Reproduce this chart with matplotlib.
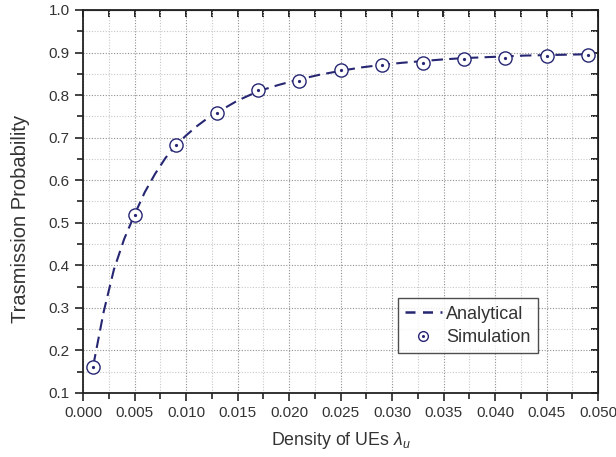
import numpy as np
import matplotlib.pyplot as plt
from matplotlib.ticker import MultipleLocator
from matplotlib.lines import Line2D
from matplotlib.legend_handler import HandlerTuple

plt.rcParams['font.family'] = ['Liberation Sans', 'DejaVu Sans']
plt.rcParams['mathtext.fontset'] = 'custom'
plt.rcParams['mathtext.it'] = 'Liberation Sans:italic'
plt.rcParams['mathtext.rm'] = 'Liberation Sans'

# simulation points
sim_x = [0.001, 0.005, 0.009, 0.013, 0.017, 0.021, 0.025, 0.029, 0.033,
         0.037, 0.041, 0.045, 0.049]
sim_y = [0.161, 0.519, 0.682, 0.759, 0.811, 0.833, 0.859, 0.870, 0.876,
         0.885, 0.888, 0.893, 0.895]

# analytical curve
ana_x = [0.001, 0.002, 0.003, 0.004, 0.005, 0.006, 0.007, 0.008, 0.009,
         0.010, 0.011, 0.012, 0.013, 0.015, 0.017, 0.019, 0.021, 0.023,
         0.025, 0.027, 0.029, 0.031, 0.033, 0.035, 0.037, 0.039, 0.041,
         0.043, 0.045, 0.047, 0.049]
ana_y = [0.165, 0.290, 0.390, 0.462, 0.519, 0.572, 0.615, 0.652, 0.682,
         0.705, 0.726, 0.744, 0.759, 0.787, 0.809, 0.824, 0.837, 0.848,
         0.857, 0.865, 0.871, 0.876, 0.880, 0.884, 0.887, 0.889, 0.891,
         0.893, 0.894, 0.895, 0.896]

navy = '#262673'
txt = '#333333'

fig = plt.figure(figsize=(6.16, 4.57), dpi=100)
ax = fig.add_axes([83 / 616, 1 - 393 / 457, 515 / 616, 383 / 457])

ax.plot(ana_x, ana_y, linestyle=(0, (5.5, 3)), color=navy, lw=1.5, zorder=3)
ax.plot(sim_x, sim_y, linestyle='none', marker='o', ms=9.5, mfc='white',
        mec=navy, mew=1.0, zorder=4)
ax.plot(sim_x, sim_y, linestyle='none', marker='o', ms=1.3, mfc=navy,
        mec=navy, zorder=5)

ax.set_xlim(0.0, 0.050)
ax.set_ylim(0.1, 1.0)
ax.xaxis.set_major_locator(MultipleLocator(0.005))
ax.xaxis.set_minor_locator(MultipleLocator(0.0025))
ax.yaxis.set_major_locator(MultipleLocator(0.1))
ax.yaxis.set_minor_locator(MultipleLocator(0.05))
ax.set_xticklabels([f'{v:.3f}' for v in ax.get_xticks()])
ax.set_yticklabels([f'{v:.1f}' for v in ax.get_yticks()])

ax.grid(which='major', linestyle=(0, (1, 1.5)), color='#909090', lw=0.8)
ax.grid(which='minor', linestyle=(0, (1, 1.5)), color='#c8c8c8', lw=0.8)
ax.set_axisbelow(True)

ax.tick_params(which='both', direction='out', labelsize=11,
               labelcolor=txt, color='#222222', width=1.2)
ax.tick_params(which='major', length=6)
ax.tick_params(which='minor', length=4)
for s in ax.spines.values():
    s.set_linewidth(1.3)
    s.set_color('#222222')

# inward ticks on top / right
secx = ax.secondary_xaxis('top')
secx.xaxis.set_major_locator(MultipleLocator(0.0025))
secx.tick_params(direction='in', length=5, width=1.2, labeltop=False)
secy = ax.secondary_yaxis('right')
secy.yaxis.set_major_locator(MultipleLocator(0.05))
secy.tick_params(direction='in', length=5, width=1.2, labelright=False)

ax.set_xlabel(r'Density of UEs $\lambda_u$', fontsize=12.8, color=txt,
              labelpad=7)
ax.set_ylabel('Trasmission Probability', fontsize=14.5, color=txt)
ax.yaxis.set_label_coords(-0.103, 0.454)

h_ana = Line2D([], [], linestyle=(0, (4, 3)), color=navy, lw=1.8)
h_circ = Line2D([], [], linestyle='none', marker='o', ms=7, mfc='white',
                mec=navy, mew=1.0)
h_dot = Line2D([], [], linestyle='none', marker='o', ms=1.2, mfc=navy,
               mec=navy)
leg = ax.legend([h_ana, (h_circ, h_dot)], ['Analytical', 'Simulation'],
                handler_map={tuple: HandlerTuple(ndivide=1)},
                loc='lower left', bbox_to_anchor=(0.612, 0.104),
                fontsize=13, frameon=True, fancybox=False, handlelength=2.0,
                borderpad=0.4, labelspacing=0.35, handletextpad=0.25,
                borderaxespad=0)
leg.get_frame().set_edgecolor('#222222')
leg.get_frame().set_linewidth(1.0)
for t in leg.get_texts():
    t.set_color(txt)

fig.savefig('out.png', dpi=100)
